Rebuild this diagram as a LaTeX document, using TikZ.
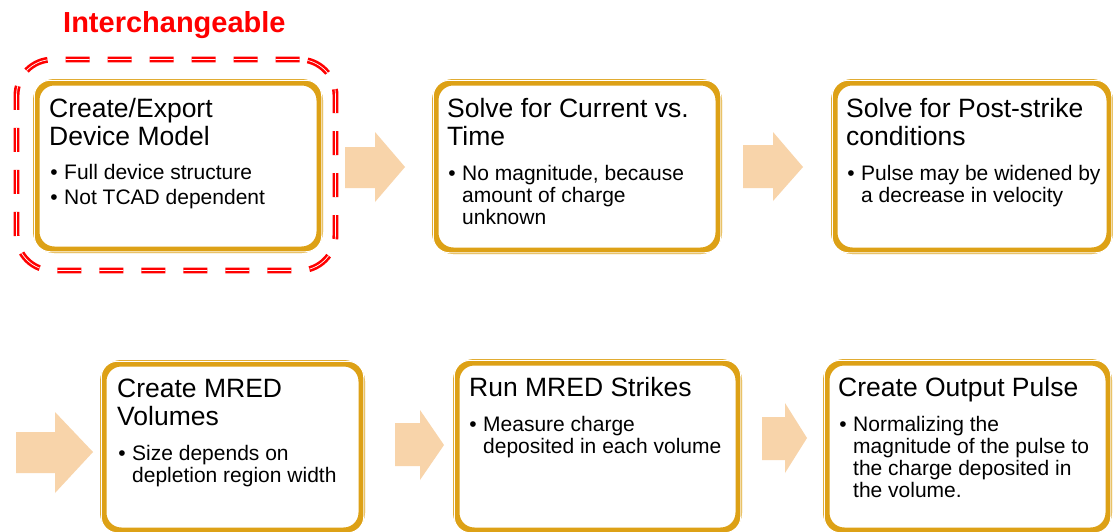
\documentclass[tikz,border=0pt]{standalone}
\usepackage{fontspec}
\setmainfont{Liberation Sans}
\definecolor{gold}{RGB}{221,161,22}
\definecolor{peach}{RGB}{248,212,170}
\definecolor{ired}{RGB}{255,0,0}
\newcommand\tfont{\fontsize{26.5}{28}\selectfont}
\newcommand\bfont{\fontsize{21}{22}\selectfont}
\newcommand\blt{\llap{•\hskip 6.5pt}}
\tikzset{
  gbox/.style={draw=gold, line width=6.5pt, rounded corners=18pt, inner sep=0pt, fill=white},
  inline/.style={draw=white, line width=1pt, rounded corners=16pt},
  ttl/.style={anchor=base west, inner sep=0pt, font=\tfont, text=black},
  bul/.style={anchor=base west, inner sep=0pt, font=\bfont, text=black},
  arrowfill/.style={fill=peach, draw=none},
  redbox/.style={draw=ired, line width=2.6pt, double=white, double distance=0.7pt, dash pattern=on 24pt off 18pt, rounded corners=36pt, inner sep=0pt}
}
\newcommand\innerline[1]{\draw[inline] ([shift={(1.25,1.25)}]#1.north west) rectangle ([shift={(-1.25,-1.25)}]#1.south east);}
\begin{document}
\begin{tikzpicture}[x=1pt,y=-1pt]
\useasboundingbox (0,0) rectangle (1113,531);
\clip (0,0) rectangle (1113,531);
\fill[white] (0,0) rectangle (1113,531);

% title
\node[anchor=base west, inner sep=0pt, font=\fontsize{29}{32}\selectfont\bfseries, text=ired] (title) at (63,32) {Interchangeable};

% boxes
\node[gbox, minimum width=283.5pt, minimum height=167.5pt] (b1) at (178,166) {};
\node[gbox, minimum width=283.5pt, minimum height=168.5pt] (b2) at (577,166.5) {};
\node[gbox, minimum width=275.5pt, minimum height=168.5pt] (b3) at (972,166.5) {};
\node[gbox, minimum width=258.5pt, minimum height=167.5pt] (b4) at (232.5,447) {};
\node[gbox, minimum width=282.5pt, minimum height=168.5pt] (b5) at (597.5,446.5) {};
\node[gbox, minimum width=282.5pt, minimum height=168.5pt] (b6) at (967.5,446.5) {};
\innerline{b1}\innerline{b2}\innerline{b3}\innerline{b4}\innerline{b5}\innerline{b6}

% dashed red outline
\node[redbox, minimum width=319pt, minimum height=211pt] (d1) at (176,165) {};

% block arrows
\fill[arrowfill] (345,147)--(375,147)--(375,132)--(405,167)--(375,202)--(375,188)--(345,188)--cycle;
\fill[arrowfill] (743,145)--(773,145)--(773,132)--(803,167)--(773,201)--(773,188)--(743,188)--cycle;
\fill[arrowfill] (16,432)--(55,432)--(55,412)--(93,452)--(55,493)--(55,473)--(16,473)--cycle;
\fill[arrowfill] (395,423)--(420,423)--(420,410)--(444,445)--(420,480)--(420,466)--(395,466)--cycle;
\fill[arrowfill] (762,417)--(785,417)--(785,403)--(807,438)--(785,473)--(785,460)--(762,460)--cycle;

% texts
\node[ttl] (t1) at (49,117) {\vtop{\hbox{Create/Export}\hbox{Device Model}}};
\node[bul] (u1) at (64,179) {\vtop{\baselineskip=25pt\hbox{\blt Full device structure}\hbox{\blt Not TCAD dependent}}};

\node[ttl] (t2) at (447,117) {\vtop{\hbox{Solve for Current vs.}\hbox{Time}}};
\node[bul] (u2) at (462,180) {\vtop{\hbox{\blt No magnitude, because}\hbox{amount of charge}\hbox{unknown}}};

\node[ttl] (t3) at (846,117) {\vtop{\hbox{Solve for Post-strike}\hbox{conditions}}};
\node[bul] (u3) at (861,180) {\vtop{\hbox{\blt Pulse may be widened by}\hbox{a decrease in velocity}}};

\node[ttl] (t4) at (117,397) {\vtop{\hbox{Create MRED}\hbox{Volumes}}};
\node[bul] (u4) at (132,460) {\vtop{\hbox{\blt Size depends on}\hbox{depletion region width}}};

\node[ttl] (t5) at (469,396) {Run MRED Strikes};
\node[bul] (u5) at (483,431) {\vtop{\hbox{\blt Measure charge}\hbox{deposited in each volume}}};

\node[ttl] (t6) at (838,396) {Create Output Pulse};
\node[bul] (u6) at (853,431) {\vtop{\hbox{\blt Normalizing the}\hbox{magnitude of the pulse to}\hbox{the charge deposited in}\hbox{the volume.}}};
\end{tikzpicture}
\end{document}
